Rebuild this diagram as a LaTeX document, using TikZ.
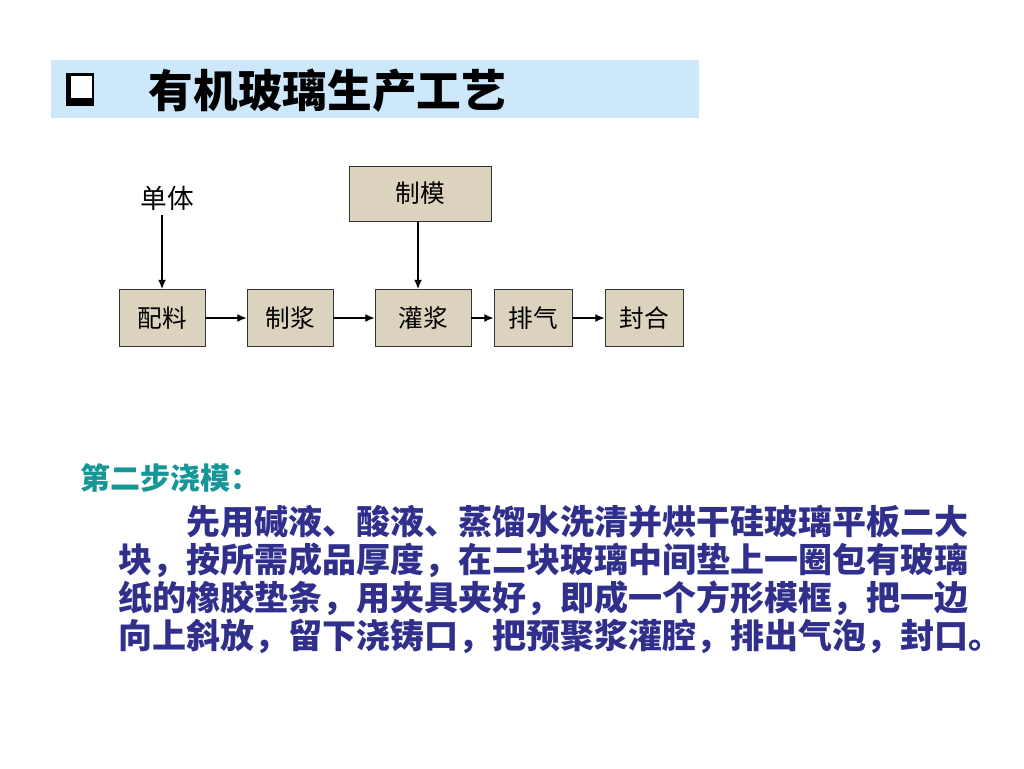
\documentclass[tikz,border=0pt]{standalone}
\usepackage{fontspec}
\setmainfont{Noto Sans CJK SC}
\usepackage{xcolor}
\usetikzlibrary{arrows.meta, backgrounds}

\definecolor{bandblue}{RGB}{204,232,250}
\definecolor{paper}{RGB}{219,211,190}
\definecolor{stepteal}{RGB}{22,150,150}
\definecolor{bodyblue}{RGB}{48,48,140}

\begin{document}
\begin{tikzpicture}[
		x=0.75pt, y=-0.75pt,
		line width=0.6pt,
		box/.style={draw=black!80, fill=paper, minimum height=57*0.75pt, inner sep=0pt, font=\fontsize{18.5pt}{20pt}\selectfont},
		flow/.style={-{Latex[length=7pt, width=6pt]}, line width=1pt},
		title/.style={anchor=west, font=\fontsize{33.5pt}{36pt}\selectfont\bfseries},
		step head/.style={anchor=west, text=stepteal, font=\fontsize{22.5pt}{24pt}\selectfont\bfseries},
		body line/.style={anchor=west, inner sep=0pt, text=bodyblue, font=\fontsize{25.5pt}{28pt}\selectfont\bfseries}
		]
	\useasboundingbox (0, 0) rectangle (1024, 768);
	\fill[white] (0, 0) rectangle (1024, 768);
	
	% Title band
	\fill[bandblue] (51, 60) rectangle (699, 118);
	\fill[black] (66, 73) rectangle (94, 106);
	\fill[white] (71, 75.5) rectangle (91.5, 98);
	\node[title] (head) at (144, 91) {有机玻璃生产工艺};
	
	% Inputs
	\node[font=\fontsize{20pt}{22pt}\selectfont] (mono) at (167, 198) {单体};
	\node[box, minimum width=142*0.75pt, minimum height=55*0.75pt] (mold) at (420, 193.5) {制模};
	
	% Process row
	\foreach \name/\x/\w/\label in {mix/162/86/配料, slurry/290/86/制浆, fill/423/96/灌浆, vent/533/78/排气, seal/644/78/封合}{
		\node[box, minimum width=\w*0.75pt] (\name) at (\x, 318) {\label};
	}
	
	% Arrows
	\foreach \a/\b in {mix/slurry, slurry/fill, fill/vent, vent/seal}{
		\draw[flow] (\a) -- (\b);
	}
	\draw[flow] (mono.south -| mix.north) -- (mix.north);
	\draw[flow] (mold.south -| 418, 0) -- (418, 0 |- fill.north);
	
	% Second step
	\node[step head] (step) at (76, 478) {第二步浇模：};
	\node[body line] (l1) at (186, 522) {先用碱液、酸液、蒸馏水洗清并烘干硅玻璃平板二大};
	\node[body line] (l2) at (118, 560) {块，按所需成品厚度，在二块玻璃中间垫上一圈包有玻璃};
	\node[body line] (l3) at (118, 598) {纸的橡胶垫条，用夹具夹好，即成一个方形模框，把一边};
	\node[body line] (l4) at (118, 636) {向上斜放，留下浇铸口，把预聚浆灌腔，排出气泡，封口。};
	
\end{tikzpicture}
\end{document}
